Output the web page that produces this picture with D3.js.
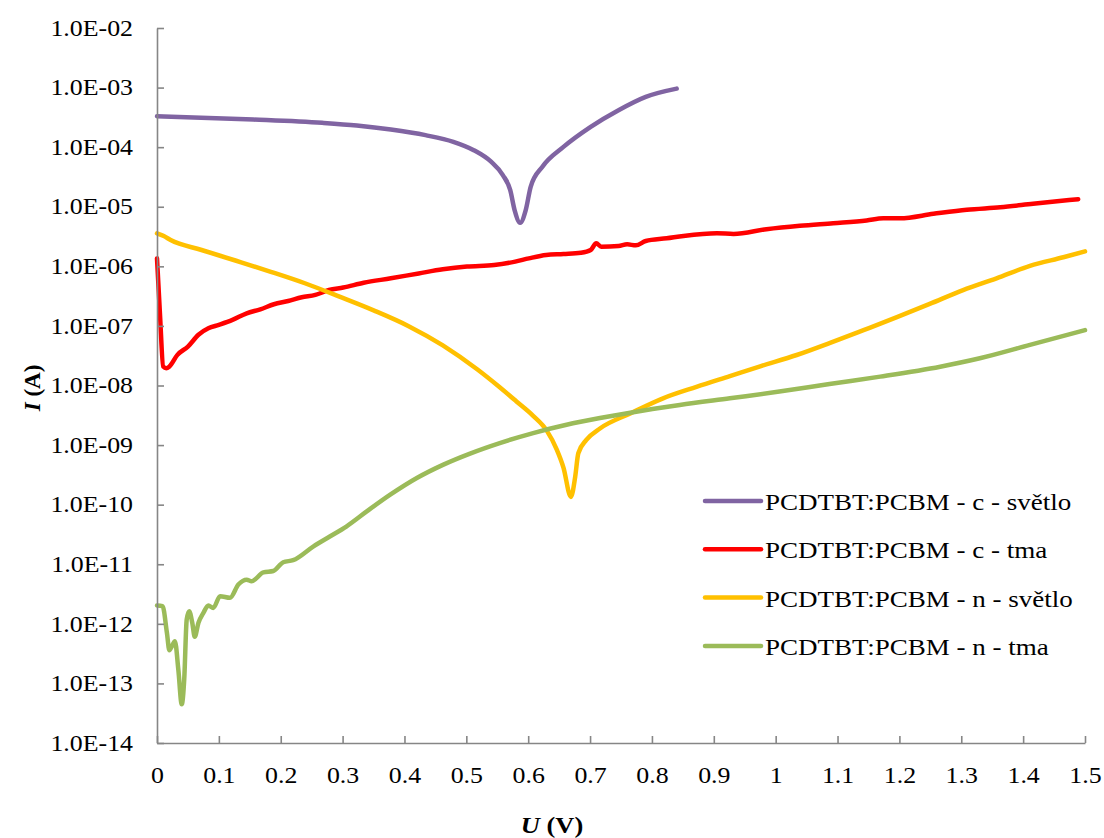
<!DOCTYPE html>
<html>
<head>
<meta charset="utf-8">
<script src="https://cdn.jsdelivr.net/npm/d3@7/dist/d3.min.js"></script>
<style>
  html, body { margin: 0; padding: 0; background: #fff; }
  svg { display: block; }
  text { font-family: "Liberation Serif", "Times New Roman", serif; fill: #000; }
</style>
</head>
<body>
<svg id="chart" width="1104" height="838"></svg>
<script>
// I–V characteristics of PCDTBT:PCBM cells (light / dark), log current scale
const seriesNames = [
  "PCDTBT:PCBM - c - světlo",
  "PCDTBT:PCBM - c - tma",
  "PCDTBT:PCBM - n - světlo",
  "PCDTBT:PCBM - n - tma"
];
const seriesColors = ["#8064A2", "#FF0000", "#FFC000", "#9BBB59"];

// c - světlo
const uCSvetlo = [0, 0.156, 0.267, 0.323, 0.378, 0.434, 0.479, 0.512, 0.540, 0.559, 0.571, 0.578, 0.587, 0.596, 0.604, 0.623, 0.657, 0.701, 0.746, 0.790, 0.840];
const iCSvetlo = [3.31e-4, 2.91e-4, 2.56e-4, 2.31e-4, 1.98e-4, 1.59e-4, 1.23e-4, 8.9e-5, 5.7e-5, 3.4e-5, 1.9e-5, 8.8e-6, 5.4e-6, 8.8e-6, 2.16e-5, 4.7e-5, 1.01e-4, 2.19e-4, 4.17e-4, 6.98e-4, 9.6e-4];

// c - tma
const uCTma = [0, 0.005, 0.010, 0.015, 0.020, 0.033, 0.050, 0.067, 0.083, 0.100, 0.122, 0.145, 0.167, 0.189, 0.212, 0.234, 0.256, 0.278, 0.301, 0.334, 0.378, 0.423, 0.462, 0.501, 0.545, 0.579, 0.601, 0.629, 0.657, 0.685, 0.701, 0.710, 0.718, 0.746, 0.760, 0.774, 0.790, 0.824, 0.851, 0.905, 0.932, 0.985, 1.039, 1.093, 1.147, 1.174, 1.201, 1.255, 1.309, 1.363, 1.416, 1.489];
const iCTma = [1.36e-6, 1.43e-7, 2.08e-8, 1.95e-8, 2.08e-8, 3.27e-8, 4.5e-8, 7.1e-8, 9.1e-8, 1.04e-7, 1.26e-7, 1.63e-7, 1.9e-7, 2.31e-7, 2.62e-7, 3.02e-7, 3.31e-7, 4.0e-7, 4.4e-7, 5.3e-7, 6.3e-7, 7.6e-7, 8.9e-7, 9.9e-7, 1.05e-6, 1.2e-6, 1.36e-6, 1.55e-6, 1.61e-6, 1.69e-6, 1.88e-6, 2.43e-6, 2.14e-6, 2.19e-6, 2.34e-6, 2.25e-6, 2.66e-6, 2.95e-6, 3.24e-6, 3.6e-6, 3.5e-6, 4.2e-6, 4.8e-6, 5.3e-6, 5.9e-6, 6.4e-6, 6.4e-6, 7.6e-6, 8.9e-6, 9.8e-6, 1.12e-5, 1.34e-5];

// n - světlo
const uNSvetlo = [0, 0.011, 0.022, 0.072, 0.128, 0.184, 0.239, 0.295, 0.351, 0.406, 0.462, 0.518, 0.553, 0.581, 0.608, 0.630, 0.646, 0.657, 0.669, 0.676, 0.681, 0.694, 0.716, 0.765, 0.818, 0.872, 0.926, 0.975, 1.034, 1.088, 1.142, 1.196, 1.249, 1.303, 1.357, 1.411, 1.465, 1.5];
const iNSvetlo = [3.57e-6, 3.22e-6, 2.76e-6, 1.88e-6, 1.24e-6, 8.1e-7, 5.2e-7, 3.1e-7, 1.81e-7, 1.0e-7, 4.7e-8, 1.85e-8, 9.5e-9, 5.4e-9, 3.1e-9, 1.75e-9, 8.5e-10, 4.2e-10, 1.35e-10, 2.96e-10, 7.3e-10, 1.22e-9, 1.9e-9, 3.4e-9, 6.1e-9, 9.5e-9, 1.44e-8, 2.1e-8, 3.25e-8, 5.2e-8, 8.5e-8, 1.4e-7, 2.34e-7, 4.0e-7, 6.3e-7, 1.02e-6, 1.42e-6, 1.78e-6];

// n - tma
const uNTma = [0, 0.009, 0.016, 0.020, 0.024, 0.029, 0.0345, 0.040, 0.044, 0.048, 0.052, 0.057, 0.061, 0.067, 0.075, 0.083, 0.091, 0.102, 0.118, 0.1315, 0.145, 0.153, 0.172, 0.188, 0.204, 0.220, 0.253, 0.280, 0.306, 0.339, 0.377, 0.420, 0.463, 0.506, 0.554, 0.608, 0.662, 0.716, 0.765, 0.845, 0.926, 1.006, 1.087, 1.169, 1.266, 1.330, 1.411, 1.5];
const iNTma = [2.03e-12, 1.98e-12, 7.1e-13, 3.6e-13, 4.2e-13, 5.1e-13, 1.7e-13, 4.45e-14, 1.17e-13, 1.18e-12, 1.63e-12, 1.04e-12, 6.05e-13, 1.04e-12, 1.53e-12, 2.03e-12, 1.85e-12, 2.91e-12, 2.73e-12, 4.56e-12, 5.5e-12, 5.2e-12, 7.3e-12, 7.7e-12, 1.08e-11, 1.17e-11, 2.0e-11, 2.95e-11, 4.3e-11, 7.7e-11, 1.47e-10, 2.8e-10, 4.7e-10, 7.2e-10, 1.08e-9, 1.59e-9, 2.19e-9, 2.84e-9, 3.5e-9, 4.7e-9, 6.1e-9, 7.9e-9, 1.06e-8, 1.41e-8, 2.07e-8, 2.86e-8, 4.8e-8, 8.5e-8];

// Axis ticks
const xTicks = [0, 0.1, 0.2, 0.3, 0.4, 0.5, 0.6, 0.7, 0.8, 0.9, 1, 1.1, 1.2, 1.3, 1.4, 1.5];
const yTicks = [1e-14, 1e-13, 1e-12, 1e-11, 1e-10, 1e-9, 1e-8, 1e-7, 1e-6, 1e-5, 1e-4, 1e-3, 1e-2];
const yTickLabels = ["1.0E-14", "1.0E-13", "1.0E-12", "1.0E-11", "1.0E-10", "1.0E-09", "1.0E-08", "1.0E-07", "1.0E-06", "1.0E-05", "1.0E-04", "1.0E-03", "1.0E-02"];

const series = [
  { u: uCSvetlo, i: iCSvetlo },
  { u: uCTma, i: iCTma },
  { u: uNSvetlo, i: iNSvetlo },
  { u: uNTma, i: iNTma }
].map((s, k) => ({
  name: seriesNames[k],
  color: seriesColors[k],
  points: s.u.map((u, j) => ({ u, i: s.i[j] }))
}));

const svg = d3.select("#chart");
const plotLeft = 157, plotRight = 1085, plotTop = 28, plotBottom = 743;
const x = d3.scaleLinear().domain([0, 1.5]).range([plotLeft, plotRight]);
const y = d3.scaleLog().domain([1e-14, 1e-2]).range([plotBottom, plotTop]);
const axisColor = "#868686";
const serif = "Liberation Serif, Times New Roman, serif";
const fontSize = 22.5;
const widen = 1.15;   // horizontally widened lettering

// Curves
const line = d3.line()
  .x(d => x(d.u))
  .y(d => y(d.i))
  .curve(d3.curveMonotoneX);

svg.append("g")
  .selectAll("path")
  .data(series)
  .join("path")
  .attr("d", d => line(d.points))
  .attr("fill", "none")
  .attr("stroke", d => d.color)
  .attr("stroke-width", 4.5)
  .attr("stroke-linejoin", "round")
  .attr("stroke-linecap", "round");

// Y axis
const yPad = 24;
const yAxis = d3.axisLeft(y)
  .tickValues(yTicks)
  .tickFormat((d, k) => yTickLabels[k])
  .tickSizeInner(-7)
  .tickSizeOuter(0)
  .tickPadding(yPad);

const gy = svg.append("g").attr("transform", `translate(${plotLeft},0)`).call(yAxis);
gy.select(".domain").attr("stroke", axisColor).attr("stroke-width", 1.6);
gy.selectAll(".tick line").attr("stroke", axisColor).attr("stroke-width", 1.6);
gy.selectAll(".tick text")
  .attr("font-family", serif)
  .attr("font-size", fontSize)
  .attr("fill", "#000")
  .attr("x", -yPad / widen)
  .attr("transform", `scale(${widen},1)`);

// X axis
const xAxis = d3.axisBottom(x)
  .tickValues(xTicks)
  .tickFormat(d => String(+d.toFixed(1)))
  .tickSizeInner(-7)
  .tickSizeOuter(0)
  .tickPadding(24);

const gx = svg.append("g").attr("transform", `translate(0,${plotBottom})`).call(xAxis);
gx.select(".domain").attr("stroke", axisColor).attr("stroke-width", 1.6);
gx.selectAll(".tick line").attr("stroke", axisColor).attr("stroke-width", 1.6);
gx.selectAll(".tick text")
  .attr("font-family", serif)
  .attr("font-size", fontSize)
  .attr("fill", "#000")
  .attr("transform", `scale(${widen},1)`);

// Axis titles
const yTitle = svg.append("text")
  .attr("transform", `translate(40,388) rotate(-90)`)
  .attr("text-anchor", "middle")
  .attr("font-size", 23)
  .attr("font-weight", "bold");
yTitle.append("tspan").attr("font-style", "italic").text("I");
yTitle.append("tspan").text(" (A)");

const xTitle = svg.append("text")
  .attr("transform", `translate(552,833) scale(${widen},1)`)
  .attr("text-anchor", "middle")
  .attr("font-size", 23)
  .attr("font-weight", "bold");
xTitle.append("tspan").attr("font-style", "italic").text("U");
xTitle.append("tspan").text(" (V)");

// Legend
const legend = svg.append("g").attr("transform", "translate(705,501)");
const item = legend.selectAll("g")
  .data(series)
  .join("g")
  .attr("transform", (d, k) => `translate(0,${k * 48.3})`);
item.append("line")
  .attr("x1", 0).attr("x2", 56)
  .attr("y1", 0).attr("y2", 0)
  .attr("stroke", d => d.color)
  .attr("stroke-width", 4.5)
  .attr("stroke-linecap", "round");
item.append("text")
  .attr("transform", `translate(60,9) scale(${widen},1)`)
  .attr("font-size", 23.5)
  .text(d => d.name);
</script>
</body>
</html>
